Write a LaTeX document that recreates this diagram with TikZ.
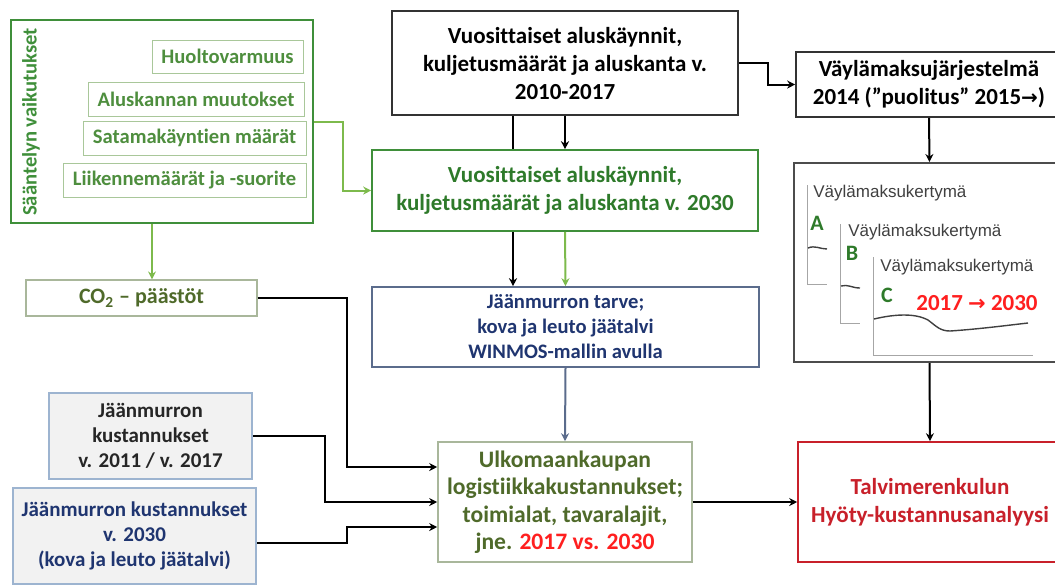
\documentclass[tikz,border=0pt]{standalone}
\usepackage{fontspec}
\setmainfont{Carlito}[Ligatures=NoCommon]
\newfontfamily\chartfont{Liberation Sans}
\newfontfamily\symfont{DejaVu Sans}
\usetikzlibrary{arrows.meta}
\definecolor{RuleGreen}{HTML}{3F8F3A}
\definecolor{LightGreen}{HTML}{7DBA4C}
\definecolor{PaleGreen}{HTML}{A9C79A}
\definecolor{TextGreen}{HTML}{2E7A2A}
\definecolor{SoftGreen}{HTML}{4E8E3E}
\definecolor{OliveGreen}{HTML}{4F6A2A}
\definecolor{BoxGray}{HTML}{F2F2F2}
\definecolor{EdgeBlue}{HTML}{9DB4D0}
\definecolor{NavyText}{HTML}{1F3570}
\definecolor{SlateBlue}{HTML}{5B6C8C}
\definecolor{SageEdge}{HTML}{A9B79B}
\definecolor{AlertRed}{HTML}{FF1F1F}
\definecolor{DarkRed}{HTML}{C8202A}
\definecolor{AxisGray}{HTML}{A6A6A6}
\definecolor{InkGray}{HTML}{404040}

\tikzset{
  box/.style={draw, line width=0.8pt, inner sep=0pt, align=center,
    font=\fontsize{11.5}{14}\selectfont\bfseries},
  subbox/.style={draw=PaleGreen, line width=0.5pt, inner sep=0pt, text=SoftGreen,
    font=\fontsize{10.3}{12}\selectfont\bfseries},
  costbox/.style={box, draw=EdgeBlue, fill=BoxGray, font=\fontsize{10.5}{12.5}\selectfont\bfseries},
  blink/.style={line width=1pt, -{Stealth[length=4pt,width=4pt]}},
  glink/.style={blink, draw=LightGreen},
  chartlabel/.style={anchor=west, inner sep=0pt, text=InkGray, font=\chartfont\fontsize{8.5}{10}\selectfont},
  curvelabel/.style={inner sep=0pt, text=TextGreen, font=\fontsize{11}{12}\selectfont\bfseries}
}

\begin{document}
\begin{tikzpicture}[x=0.5pt, y=-0.5pt]
  \useasboundingbox (0,0) rectangle (1055,586);

  % regulation effects
  \node[box, draw=RuleGreen, line width=1pt, minimum width=151pt, minimum height=101.5pt] (saant) at (162,121.5) {};
  \node[rotate=90, text=RuleGreen, font=\fontsize{10.3}{12}\selectfont\bfseries] (saantlabel) at (31,122) {Sääntelyn vaikutukset};
  \node[subbox, minimum width=75.5pt, minimum height=16.5pt] (huolto) at (227.5,56.5) {Huoltovarmuus};
  \node[subbox, minimum width=108pt, minimum height=17pt] (alus) at (196,99) {Aluskannan muutokset};
  \node[subbox, minimum width=111.5pt, minimum height=17pt] (satama) at (194.5,138) {Satamakäyntien määrät};
  \node[subbox, minimum width=121.5pt, minimum height=17pt] (liikenne) at (184.5,180) {Liikennemäärät ja -suorite};
  \node[box, draw=SageEdge, line width=0.6pt, text=OliveGreen, font=\fontsize{11}{12}\selectfont\bfseries, minimum width=115.5pt, minimum height=18pt] (co2) at (141.5,298) {CO\textsubscript{2} – päästöt};

  % ice breaking costs
  \node[costbox, text=black!85, minimum width=101.5pt, minimum height=43pt] (kust17) at (150.5,436) {Jäänmurron\\ kustannukset\\ v. 2011 / v. 2017};
  \node[costbox, text=NavyText, minimum width=121.5pt, minimum height=48pt] (kust30) at (134.5,536) {Jäänmurron kustannukset\\ v. 2030\\ (kova ja leuto jäätalvi)};

  % middle column
  \node[box, draw=black!80, minimum width=173pt, minimum height=52pt] (vuosi17) at (565,63) {Vuosittaiset aluskäynnit,\\ kuljetusmäärät ja aluskanta v.\\ 2010-2017};
  \node[box, draw=RuleGreen, text=TextGreen, minimum width=193pt, minimum height=40.5pt] (vuosi30) at (565,190.5) {Vuosittaiset aluskäynnit,\\ kuljetusmäärät ja aluskanta v. 2030};
  \node[box, draw=SlateBlue, text=NavyText, font=\fontsize{10.3}{12.5}\selectfont\bfseries, minimum width=193.5pt, minimum height=40pt] (tarve) at (565.5,327) {Jäänmurron tarve;\\ kova ja leuto jäätalvi\\ WINMOS-mallin avulla};
  \node[box, draw=SageEdge, text=OliveGreen, font=\fontsize{11.8}{13.7}\selectfont\bfseries, minimum width=127pt, minimum height=60pt] (ulk) at (565,502) {Ulkomaankaupan\\ logistiikkakustannukset;\\ toimialat, tavaralajit,\\ jne. \textcolor{AlertRed}{2017 vs. 2030}};

  % right column
  \node[box, draw=black!80, minimum width=133pt, minimum height=32.5pt] (vayla) at (929,84.5) {Väylämaksujärjestelmä\\ 2014 (”puolitus” 2015{\symfont\bfseries\fontsize{10}{12}\selectfont →})};
  \node[box, draw=black!70, line width=1pt, minimum width=135.5pt, minimum height=99.5pt] (kertyma) at (929.5,262.5) {};
  \node[box, draw=DarkRed, text=DarkRed, minimum width=132pt, minimum height=60pt] (hyoty) at (930,502) {Talvimerenkulun\\ Hyöty-kustannusanalyysi};

  % accumulation charts
  \draw[AxisGray, line width=0.5pt] (807,185) -- (807,284) -- (827,284);
  \draw[AxisGray, line width=0.5pt] (840,224) -- (840,323) -- (860,323);
  \draw[AxisGray, line width=0.5pt] (873,257) -- (873,355) -- (1033,355);
  \node[chartlabel] (kertA) at (813,193) {Väylämaksukertymä};
  \node[chartlabel] (kertB) at (848,232) {Väylämaksukertymä};
  \node[chartlabel] (kertC) at (880,267) {Väylämaksukertymä};
  \node[curvelabel] (labA) at (817,223) {A};
  \node[curvelabel] (labB) at (852,253) {B};
  \node[curvelabel] (labC) at (887,295) {C};
  \node[inner sep=0pt, text=AlertRed, font=\fontsize{11.5}{12}\selectfont\bfseries] (jakso) at (977,303) {2017 {\symfont\bfseries\fontsize{10.5}{12}\selectfont →} 2030};
  \draw[InkGray, line width=0.7pt] (808,248) .. controls (815,245) and (820,249) .. (827,249);
  \draw[InkGray, line width=0.7pt] (841,286) .. controls (848,284) and (852,288) .. (860,288);
  \draw[InkGray, line width=0.7pt] (874,319) .. controls (895,314) and (915,313) .. (928,320)
    .. controls (936,326) and (940,331) .. (950,331) .. controls (980,329) and (1010,325) .. (1028,323);

  % connectors
  \coordinate (histx) at (513,0);
  \draw[glink] (saant.east) -- ++(29,0) |- (vuosi30.west);
  \draw[glink] ([xshift=-5pt]saant.south) -- ([xshift=-5pt]saant.south |- co2.north);
  \draw[blink] (co2.east) -- (347,298) -- (347,467) -- ([yshift=17.5pt]ulk.west);
  \draw[blink] (kust17.east) -- (325,436) -- (325,502) -- (ulk.west);
  \draw[blink] ([yshift=-3.5pt]kust30.east) -- (347,543) -- (347,527) -- ([yshift=-12.5pt]ulk.west);
  \draw[blink] (vuosi17.east) -- ++(29,0) |- (vayla.west);
  \draw[line width=1pt] (vuosi17.south -| histx) -- (vuosi30.north -| histx);
  \draw[blink] (vuosi30.south -| histx) -- (tarve.north -| histx);
  \draw[blink] (vuosi17.south) -- (vuosi30.north);
  \draw[glink] (vuosi30.south) -- (tarve.north);
  \draw[blink, draw=SlateBlue] (tarve.south) -- (ulk.north);
  \draw[blink] (ulk.east) -- (hyoty.west);
  \draw[blink] (vayla.south) -- (kertyma.north);
  \draw[blink] (kertyma.south) -- (hyoty.north);
\end{tikzpicture}
\end{document}
